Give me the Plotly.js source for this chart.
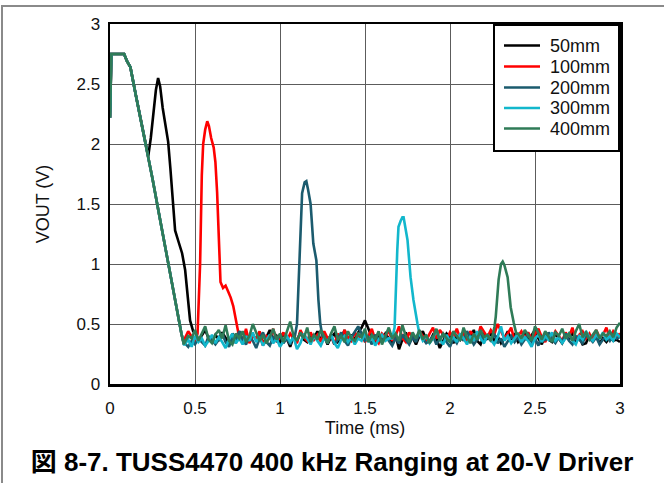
<!DOCTYPE html>
<html>
<head>
<meta charset="utf-8">
<script src="https://cdn.plot.ly/plotly-3.0.1.min.js"></script>
<style>
  html, body { margin: 0; padding: 0; background: #fff; }
  #wrap { position: relative; width: 664px; height: 483px; }
  #chart { position: absolute; left: 0; top: 0; width: 664px; height: 483px; }
  #frame { position: absolute; left: 1px; top: 5px; width: 670px; height: 490px;
           border-top: 2px solid #8a8a8a; border-left: 2px solid #8a8a8a; pointer-events: none; }
</style>
</head>
<body>
<div id="wrap"><div id="chart"></div><div id="frame"></div></div>
<script>
// ---- series names / colours ----
const seriesNames = ["50mm", "100mm", "200mm", "300mm", "400mm"];
const seriesColors = ["#000000", "#ff0000", "#1b5b6e", "#12b7cc", "#2f7b57"];

// ---- common initial ring-down (all series) ----
const fallT = [0, 0.008, 0.02, 0.05, 0.083, 0.1, 0.11, 0.12, 0.15, 0.2, 0.25, 0.3, 0.35, 0.4, 0.42, 0.435];
const fallV = [2.22, 2.75, 2.75, 2.75, 2.75, 2.69, 2.66, 2.64, 2.42, 2.07, 1.71, 1.33, 0.95, 0.56, 0.42, 0.33];

// ---- echo segments ----
const echo50T  = [0.225, 0.24, 0.255, 0.27, 0.283, 0.295, 0.31, 0.325, 0.342, 0.355, 0.365, 0.375, 0.383, 0.4, 0.424, 0.442, 0.452, 0.46, 0.471, 0.489];
const echo50V  = [1.9, 2.05, 2.25, 2.45, 2.55, 2.48, 2.3, 2.15, 2.02, 1.8, 1.6, 1.4, 1.28, 1.2, 1.09, 0.95, 0.8, 0.7, 0.53, 0.44];
const echo100T = [0.515, 0.53, 0.54, 0.548, 0.56, 0.572, 0.582, 0.595, 0.61, 0.62, 0.63, 0.64, 0.65, 0.665, 0.68, 0.695, 0.71, 0.725, 0.74, 0.752];
const echo100V = [0.42, 1.0, 1.74, 2.0, 2.12, 2.19, 2.15, 2.05, 1.97, 1.85, 1.6, 1.2, 0.85, 0.8, 0.82, 0.77, 0.72, 0.65, 0.55, 0.46];
const echo200T = [1.085, 1.10, 1.115, 1.13, 1.145, 1.155, 1.165, 1.18, 1.196, 1.214, 1.226, 1.237, 1.25];
const echo200V = [0.38, 0.5, 1.1, 1.59, 1.68, 1.69, 1.62, 1.5, 1.17, 1.03, 0.7, 0.5, 0.4];
const echo300T = [1.66, 1.674, 1.69, 1.697, 1.71, 1.72, 1.727, 1.735, 1.75, 1.768, 1.785, 1.809, 1.82];
const echo300V = [0.38, 0.47, 1.12, 1.31, 1.36, 1.39, 1.39, 1.33, 1.2, 0.89, 0.7, 0.5, 0.42];
const echo400T = [2.25, 2.262, 2.269, 2.286, 2.3, 2.31, 2.32, 2.339, 2.357, 2.375, 2.39];
const echo400V = [0.40, 0.48, 0.56, 0.87, 1.0, 1.02, 0.99, 0.89, 0.64, 0.51, 0.42];

// ---- baseline sample times (ms) ----
const baseT = [0.44,0.46,0.48,0.50,0.52,0.54,0.56,0.58,0.60,0.62,
  0.64,0.66,0.68,0.70,0.72,0.74,0.76,0.78,0.80,0.82,
  0.84,0.86,0.88,0.90,0.92,0.94,0.96,0.98,1.00,1.02,
  1.04,1.06,1.08,1.10,1.12,1.14,1.16,1.18,1.20,1.22,
  1.24,1.26,1.28,1.30,1.32,1.34,1.36,1.38,1.40,1.42,
  1.44,1.46,1.48,1.50,1.52,1.54,1.56,1.58,1.60,1.62,
  1.64,1.66,1.68,1.70,1.72,1.74,1.76,1.78,1.80,1.82,
  1.84,1.86,1.88,1.90,1.92,1.94,1.96,1.98,2.00,2.02,
  2.04,2.06,2.08,2.10,2.12,2.14,2.16,2.18,2.20,2.22,
  2.24,2.26,2.28,2.30,2.32,2.34,2.36,2.38,2.40,2.42,
  2.44,2.46,2.48,2.50,2.52,2.54,2.56,2.58,2.60,2.62,
  2.64,2.66,2.68,2.70,2.72,2.74,2.76,2.78,2.80,2.82,
  2.84,2.86,2.88,2.90,2.92,2.94,2.96,2.98,3.00];

// ---- baseline noise per series (V) ----
const base50 = [0.42,0.40,0.38,0.44,0.36,0.40,0.45,0.38,0.35,0.41,
  0.37,0.43,0.39,0.34,0.42,0.38,0.44,0.36,0.40,0.35,
  0.41,0.37,0.43,0.33,0.39,0.45,0.36,0.40,0.34,0.42,
  0.38,0.31,0.40,0.36,0.43,0.37,0.35,0.41,0.38,0.44,
  0.36,0.40,0.33,0.39,0.42,0.35,0.38,0.45,0.34,0.41,
  0.37,0.43,0.47,0.53,0.46,0.39,0.35,0.40,0.36,0.42,
  0.38,0.34,0.41,0.29,0.37,0.43,0.36,0.39,0.33,0.40,
  0.44,0.37,0.35,0.41,0.38,0.30,0.36,0.42,0.39,0.34,
  0.40,0.37,0.43,0.35,0.39,0.45,0.36,0.33,0.41,0.38,
  0.42,0.36,0.40,0.34,0.38,0.44,0.37,0.41,0.35,0.39,
  0.43,0.36,0.40,0.45,0.38,0.33,0.41,0.37,0.35,0.42,
  0.38,0.34,0.40,0.37,0.43,0.36,0.39,0.33,0.34,0.41,
  0.36,0.40,0.34,0.38,0.35,0.39,0.36,0.37,0.35];
const base100 = [0.38,0.44,0.40,0.35,0.42,0.37,0.43,0.39,0.36,0.41,
  0.38,0.44,0.36,0.40,0.37,0.43,0.39,0.35,0.46,0.34,
  0.41,0.37,0.44,0.32,0.40,0.38,0.46,0.35,0.39,0.43,
  0.36,0.42,0.38,0.34,0.45,0.39,0.36,0.43,0.37,0.41,
  0.35,0.44,0.38,0.40,0.33,0.42,0.37,0.45,0.39,0.36,
  0.43,0.38,0.41,0.35,0.40,0.46,0.37,0.34,0.42,0.39,
  0.45,0.36,0.40,0.48,0.38,0.35,0.43,0.39,0.37,0.44,
  0.40,0.36,0.42,0.47,0.38,0.45,0.41,0.37,0.43,0.39,
  0.46,0.38,0.42,0.36,0.44,0.40,0.37,0.48,0.43,0.39,
  0.45,0.41,0.50,0.44,0.38,0.42,0.47,0.36,0.40,0.44,
  0.38,0.43,0.37,0.41,0.46,0.39,0.35,0.42,0.38,0.44,
  0.40,0.36,0.43,0.39,0.47,0.37,0.41,0.44,0.38,0.42,
  0.36,0.45,0.39,0.41,0.47,0.38,0.44,0.40,0.42];
const base200 = [0.34,0.31,0.36,0.33,0.38,0.35,0.32,0.40,0.36,0.33,
  0.37,0.42,0.35,0.31,0.39,0.34,0.44,0.37,0.33,0.40,
  0.36,0.30,0.38,0.43,0.35,0.32,0.39,0.36,0.41,0.34,
  0.38,0.33,0.40,0.36,0.42,0.37,0.39,0.35,0.40,0.37,
  0.34,0.38,0.35,0.41,0.33,0.37,0.43,0.36,0.32,0.39,
  0.44,0.48,0.42,0.36,0.39,0.33,0.41,0.37,0.35,0.40,
  0.36,0.32,0.38,0.34,0.41,0.37,0.33,0.39,0.35,0.42,
  0.38,0.34,0.36,0.40,0.33,0.37,0.42,0.35,0.31,0.38,
  0.34,0.40,0.36,0.44,0.38,0.33,0.37,0.41,0.35,0.39,
  0.36,0.42,0.34,0.38,0.31,0.36,0.40,0.35,0.39,0.33,
  0.37,0.41,0.35,0.38,0.32,0.40,0.36,0.43,0.37,0.34,
  0.39,0.35,0.42,0.36,0.33,0.40,0.37,0.34,0.41,0.38,
  0.35,0.39,0.33,0.37,0.40,0.36,0.41,0.38,0.39];
const base300 = [0.33,0.37,0.31,0.40,0.35,0.38,0.32,0.36,0.41,0.34,
  0.39,0.35,0.30,0.37,0.42,0.34,0.38,0.33,0.40,0.36,
  0.43,0.35,0.39,0.32,0.37,0.41,0.34,0.38,0.31,0.36,
  0.40,0.35,0.39,0.29,0.34,0.42,0.37,0.33,0.40,0.36,
  0.32,0.38,0.35,0.41,0.34,0.30,0.37,0.40,0.35,0.39,
  0.33,0.38,0.36,0.42,0.35,0.39,0.32,0.37,0.41,0.36,
  0.38,0.34,0.40,0.36,0.33,0.39,0.35,0.40,0.37,0.43,
  0.36,0.40,0.34,0.38,0.45,0.37,0.33,0.41,0.36,0.39,
  0.35,0.42,0.38,0.33,0.40,0.36,0.44,0.38,0.34,0.41,
  0.37,0.33,0.39,0.48,0.36,0.40,0.34,0.38,0.42,0.35,
  0.39,0.36,0.31,0.38,0.41,0.35,0.40,0.37,0.43,0.36,
  0.39,0.34,0.38,0.42,0.36,0.33,0.40,0.37,0.44,0.39,
  0.36,0.41,0.38,0.43,0.37,0.40,0.36,0.42,0.39];
const base400 = [0.35,0.40,0.38,0.45,0.36,0.42,0.48,0.37,0.34,0.41,
  0.45,0.38,0.49,0.36,0.33,0.42,0.38,0.44,0.35,0.40,
  0.50,0.43,0.36,0.41,0.34,0.39,0.46,0.37,0.42,0.35,
  0.44,0.52,0.40,0.36,0.43,0.38,0.47,0.35,0.41,0.37,
  0.45,0.39,0.34,0.42,0.48,0.37,0.40,0.35,0.44,0.38,
  0.36,0.42,0.39,0.46,0.35,0.41,0.37,0.44,0.33,0.40,
  0.47,0.38,0.42,0.36,0.49,0.40,0.35,0.43,0.38,0.45,
  0.37,0.41,0.34,0.39,0.46,0.36,0.42,0.38,0.35,0.44,
  0.40,0.36,0.47,0.39,0.34,0.42,0.37,0.45,0.39,0.41,
  0.36,0.43,0.38,0.40,0.35,0.44,0.39,0.37,0.42,0.38,
  0.45,0.40,0.36,0.48,0.42,0.37,0.44,0.39,0.35,0.43,
  0.40,0.46,0.38,0.42,0.36,0.44,0.50,0.39,0.43,0.37,
  0.41,0.45,0.38,0.42,0.40,0.44,0.39,0.47,0.51];

// where each series leaves the common ring-down curve
const fallCut = [0.2, 0.435, 0.435, 0.435, 0.435];

const echoT = [echo50T, echo100T, echo200T, echo300T, echo400T];
const echoV = [echo50V, echo100V, echo200V, echo300V, echo400V];
const baseV = [base50, base100, base200, base300, base400];

function buildSeries(k) {
  const pts = [];
  let lastFall = 0;
  for (let i = 0; i < fallT.length; i++) {
    if (fallT[i] <= fallCut[k] + 1e-9) { pts.push([fallT[i], fallV[i]]); lastFall = fallT[i]; }
  }
  const eT = echoT[k], eV = echoV[k];
  const e0 = eT[0], e1 = eT[eT.length - 1];
  const n = Math.min(baseT.length, baseV[k].length);
  for (let i = 0; i < n; i++) {
    const t = baseT[i];
    if (t > lastFall && !(t >= e0 && t <= e1)) pts.push([t, baseV[k][i]]);
  }
  for (let i = 0; i < eT.length; i++) pts.push([eT[i], eV[i]]);
  pts.sort((a, b) => a[0] - b[0]);
  return { x: pts.map(p => p[0]), y: pts.map(p => p[1]) };
}

const FONT = "Liberation Sans, Arial, Noto Sans CJK JP, sans-serif";
const traces = seriesNames.map((nm, k) => {
  const d = buildSeries(k);
  return {
    type: "scatter", mode: "lines", name: nm, showlegend: false,
    x: d.x, y: d.y,
    line: { color: seriesColors[k], width: 2.6 }
  };
});

// ---- legend drawn in paper coordinates (box, sample lines, labels) ----
const PL = 110, PR = 620, PT = 24, PB = 384;
const px2x = p => (p - PL) / (PR - PL);
const px2y = p => (PB - p) / (PB - PT);
const legRowsPx = [45.5, 66.5, 87.5, 108, 128.5];
const shapes = [{
  type: "rect", xref: "paper", yref: "paper",
  x0: px2x(494), x1: px2x(619), y0: px2y(151), y1: px2y(25),
  fillcolor: "#ffffff", line: { color: "#000", width: 2 }, layer: "above"
}];
const annotations = [];
seriesNames.forEach((nm, k) => {
  shapes.push({
    type: "line", xref: "paper", yref: "paper",
    x0: px2x(504), x1: px2x(540), y0: px2y(legRowsPx[k]), y1: px2y(legRowsPx[k]),
    line: { color: seriesColors[k], width: 2.6 }, layer: "above"
  });
  annotations.push({
    xref: "paper", yref: "paper", x: px2x(548), y: px2y(legRowsPx[k]),
    xanchor: "left", yanchor: "middle", showarrow: false, text: nm,
    font: { family: FONT, size: 18, color: "#111" }
  });
});

const layout = {
  width: 664, height: 483,
  margin: { l: PL, r: 664 - PR, t: PT, b: 483 - PB },
  paper_bgcolor: "#ffffff", plot_bgcolor: "#ffffff",
  font: { family: FONT, color: "#111", size: 17 },
  showlegend: false,
  shapes: shapes,
  annotations: annotations,
  xaxis: {
    range: [0, 3], dtick: 0.5, tick0: 0,
    showgrid: true, gridcolor: "#5c5c5c", gridwidth: 1,
    zeroline: false, showline: true, mirror: true, linecolor: "#000", linewidth: 2.5,
    ticks: "", ticklabelstandoff: 7, tickfont: { family: FONT, size: 17, color: "#111" },
    title: { text: "Time (ms)", font: { family: FONT, size: 18, color: "#111" }, standoff: 1 }
  },
  yaxis: {
    range: [0, 3], dtick: 0.5, tick0: 0,
    showgrid: true, gridcolor: "#5c5c5c", gridwidth: 1,
    zeroline: false, showline: true, mirror: true, linecolor: "#000", linewidth: 2.5,
    ticks: "", ticklabelstandoff: 4, tickfont: { family: FONT, size: 17, color: "#111" },
    title: { text: "VOUT (V)", font: { family: FONT, size: 18, color: "#111" }, standoff: 22 }
  },
  title: {
    text: "<b>図 8-7. TUSS4470 400 kHz Ranging at 20-V Driver</b>",
    font: { family: FONT, size: 26, color: "#000" },
    x: 0.5, xref: "container", xanchor: "center",
    y: 0.044, yref: "container", yanchor: "middle"
  }
};

Plotly.newPlot("chart", traces, layout, { displayModeBar: false, staticPlot: true });
</script>
</body>
</html>
